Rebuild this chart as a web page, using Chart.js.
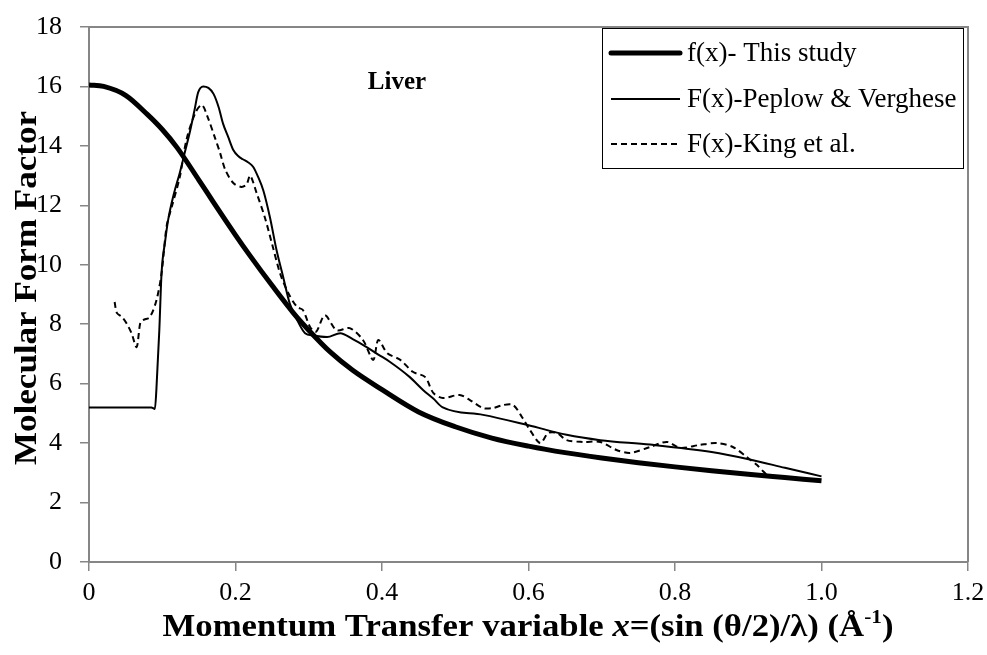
<!DOCTYPE html>
<html>
<head>
<meta charset="utf-8">
<script src="https://cdn.jsdelivr.net/npm/chart.js@4.4.1/dist/chart.umd.min.js"></script>
<style>
  html, body { margin: 0; padding: 0; background: #fff; }
  #wrap { width: 987px; height: 655px; position: relative; }
</style>
</head>
<body>
<div id="wrap"><canvas id="chart" width="987" height="655"></canvas></div>
<script>
// ── Data ──
const xTicks = [0, 0.2, 0.4, 0.6, 0.8, 1, 1.2];
const yTicks = [0, 2, 4, 6, 8, 10, 12, 14, 16, 18];

const seriesNames = ['f(x)- This study', 'F(x)-Peplow & Verghese', 'F(x)-King et al.'];

const studyX = [0, 0.02, 0.05, 0.08, 0.1, 0.12, 0.15, 0.17, 0.2, 0.22, 0.25, 0.28, 0.3, 0.33, 0.36, 0.4, 0.45, 0.5, 0.55, 0.6, 0.65, 0.7, 0.75, 0.8, 0.85, 0.9, 0.95, 1.0];
const studyY = [16.05, 16.0, 15.7, 15.05, 14.55, 13.95, 12.85, 12.1, 11.0, 10.3, 9.3, 8.35, 7.8, 7.05, 6.45, 5.8, 5.05, 4.55, 4.17, 3.9, 3.68, 3.5, 3.34, 3.2, 3.07, 2.95, 2.84, 2.73];

const peplowX = [0, 0.085, 0.09, 0.092, 0.096, 0.099, 0.104, 0.108, 0.116, 0.124, 0.131, 0.138, 0.144, 0.149, 0.156, 0.163, 0.17, 0.177, 0.183, 0.19, 0.197, 0.204, 0.21, 0.217, 0.224, 0.231, 0.238, 0.247, 0.256, 0.265, 0.274, 0.283, 0.295, 0.306, 0.325, 0.343, 0.36, 0.379, 0.395, 0.411, 0.438, 0.456, 0.47, 0.483, 0.538, 0.6, 0.652, 0.698, 0.766, 0.85, 0.902, 0.95, 1.0];
const peplowY = [5.2, 5.2, 5.15, 5.8, 7.8, 9.7, 10.8, 11.5, 12.4, 13.1, 13.8, 14.5, 15.2, 15.8, 16.0, 15.95, 15.75, 15.3, 14.75, 14.3, 13.86, 13.65, 13.55, 13.45, 13.3, 12.95, 12.5, 11.6, 10.5, 9.6, 8.7, 8.2, 7.7, 7.62, 7.57, 7.7, 7.5, 7.23, 6.98, 6.73, 6.22, 5.79, 5.5, 5.2, 4.95, 4.6, 4.28, 4.1, 3.95, 3.7, 3.45, 3.17, 2.88];

const kingX = [0.035, 0.038, 0.045, 0.051, 0.058, 0.065, 0.07, 0.074, 0.083, 0.092, 0.099, 0.106, 0.113, 0.124, 0.133, 0.145, 0.154, 0.162, 0.172, 0.179, 0.186, 0.197, 0.208, 0.215, 0.22, 0.229, 0.24, 0.251, 0.261, 0.272, 0.284, 0.292, 0.302, 0.31, 0.322, 0.338, 0.356, 0.374, 0.388, 0.395, 0.407, 0.425, 0.442, 0.459, 0.47, 0.483, 0.506, 0.52, 0.538, 0.552, 0.565, 0.579, 0.591, 0.602, 0.616, 0.627, 0.639, 0.652, 0.675, 0.698, 0.72, 0.739, 0.766, 0.789, 0.807, 0.834, 0.857, 0.879, 0.898, 0.912, 0.925];
const kingY = [8.75, 8.38, 8.24, 8.04, 7.7, 7.23, 8.04, 8.14, 8.24, 8.8, 9.7, 11.3, 11.95, 12.96, 14.2, 15.1, 15.38, 14.97, 14.27, 13.76, 13.2, 12.75, 12.62, 12.7, 13.0, 12.4, 11.6, 10.6, 9.7, 9.05, 8.58, 8.48, 7.9, 7.75, 8.3, 7.8, 7.87, 7.47, 6.8, 7.47, 7.03, 6.8, 6.4, 6.22, 5.69, 5.52, 5.62, 5.45, 5.18, 5.18, 5.28, 5.28, 4.88, 4.44, 4.0, 4.34, 4.34, 4.1, 4.04, 4.04, 3.77, 3.67, 3.87, 4.04, 3.84, 3.94, 4.0, 3.87, 3.53, 3.26, 2.93];

const SERIF = "'Liberation Serif', 'Times New Roman', serif";
const AXIS_GRAY = '#868686';

const pts = (xs, ys) => xs.map((x, i) => ({ x: x, y: ys[i] }));

// ── Legend, label, frame and axis titles drawn on the canvas ──
const decorPlugin = {
    id: 'decor',
    afterDraw(chart) {
        const ctx = chart.ctx, a = chart.chartArea;
        ctx.save();

        // top and right frame of plot area
        ctx.strokeStyle = AXIS_GRAY; ctx.lineWidth = 2;
        ctx.beginPath();
        ctx.moveTo(a.left, a.top); ctx.lineTo(a.right, a.top); ctx.lineTo(a.right, a.bottom);
        ctx.stroke();

        // "Liver"
        ctx.fillStyle = '#000';
        ctx.font = 'bold 25px ' + SERIF;
        ctx.textAlign = 'center'; ctx.textBaseline = 'middle';
        ctx.fillText('Liver', 397, 83);

        // legend box
        ctx.strokeStyle = '#000'; ctx.lineWidth = 1;
        ctx.strokeRect(602.5, 28.5, 361, 140);
        const rows = [53, 99, 144];
        chart.data.datasets.forEach((ds, i) => {
            ctx.strokeStyle = ds.borderColor;
            ctx.lineWidth = ds.borderWidth;
            ctx.setLineDash(ds.borderDash || []);
            ctx.lineCap = i === 0 ? 'round' : 'butt';
            ctx.beginPath(); ctx.moveTo(611, rows[i]); ctx.lineTo(680, rows[i]); ctx.stroke();
            ctx.setLineDash([]);
            ctx.fillStyle = '#000';
            ctx.font = '27px ' + SERIF;
            ctx.textAlign = 'left'; ctx.textBaseline = 'middle';
            ctx.fillText(ds.label, 687, rows[i] + 1);
        });

        // y title (stretched along its length to match)
        ctx.save();
        ctx.translate(28, 288);
        ctx.rotate(-Math.PI / 2);
        ctx.scale(1.13, 1);
        ctx.font = 'bold 31px ' + SERIF;
        ctx.textAlign = 'center'; ctx.textBaseline = 'middle';
        ctx.fillText('Molecular Form Factor', 0, 0);
        ctx.restore();

        // x title with italic x and superscript
        const base = 'bold 31px ' + SERIF;
        const parts = [
            { t: 'Momentum Transfer variable ', f: base },
            { t: 'x', f: 'italic ' + base },
            { t: '=(sin (θ/2)/λ) (Å', f: base },
            { t: '-1', f: 'bold 19px ' + SERIF, dy: -10 },
            { t: ')', f: base }
        ];
        let total = 0;
        parts.forEach(p => { ctx.font = p.f; p.w = ctx.measureText(p.t).width; total += p.w; });
        const sx = 731 / total;
        ctx.save();
        ctx.translate(528, 628);
        ctx.scale(sx, 1);
        let x = -total / 2;
        ctx.textAlign = 'left'; ctx.textBaseline = 'middle';
        parts.forEach(p => {
            ctx.font = p.f;
            ctx.fillText(p.t, x, p.dy || 0);
            x += p.w;
        });
        ctx.restore();

        ctx.restore();
    }
};

const axisCommon = {
    grid: { display: true, drawOnChartArea: false, drawTicks: true, tickLength: 9, color: AXIS_GRAY, lineWidth: 1.5 },
    border: { display: true, color: AXIS_GRAY, width: 2 },
    ticks: { color: '#000', font: { family: SERIF, size: 26 } }
};

new Chart(document.getElementById('chart'), {
    type: 'scatter',
    data: {
        datasets: [
            { label: seriesNames[0], data: pts(studyX, studyY), borderColor: '#000', borderWidth: 5, tension: 0.4, cubicInterpolationMode: 'monotone' },
            { label: seriesNames[1], data: pts(peplowX, peplowY), borderColor: '#000', borderWidth: 2, tension: 0.3, cubicInterpolationMode: 'monotone' },
            { label: seriesNames[2], data: pts(kingX, kingY), borderColor: '#000', borderWidth: 2, borderDash: [6, 4], tension: 0.3 }
        ].map(d => Object.assign(d, { showLine: true, pointRadius: 0, pointHoverRadius: 0, fill: false }))
    },
    options: {
        responsive: false,
        animation: false,
        layout: { padding: { top: 27, right: 19, left: 0, bottom: 0 } },
        plugins: { legend: { display: false }, tooltip: { enabled: false } },
        scales: {
            x: Object.assign({}, axisCommon, {
                type: 'linear', min: 0, max: 1.2,
                afterBuildTicks: s => { s.ticks = xTicks.map(v => ({ value: v })); },
                ticks: Object.assign({}, axisCommon.ticks, { padding: 7, maxRotation: 0 }),
                afterFit: s => { s.height = 93; s.paddingLeft = 0; s.paddingRight = 0; }
            }),
            y: Object.assign({}, axisCommon, {
                type: 'linear', min: 0, max: 18,
                afterBuildTicks: s => { s.ticks = yTicks.map(v => ({ value: v })); },
                ticks: Object.assign({}, axisCommon.ticks, { padding: 18 }),
                afterFit: s => { s.width = 89; s.paddingTop = 0; s.paddingBottom = 0; }
            })
        }
    },
    plugins: [decorPlugin]
});
</script>
</body>
</html>
